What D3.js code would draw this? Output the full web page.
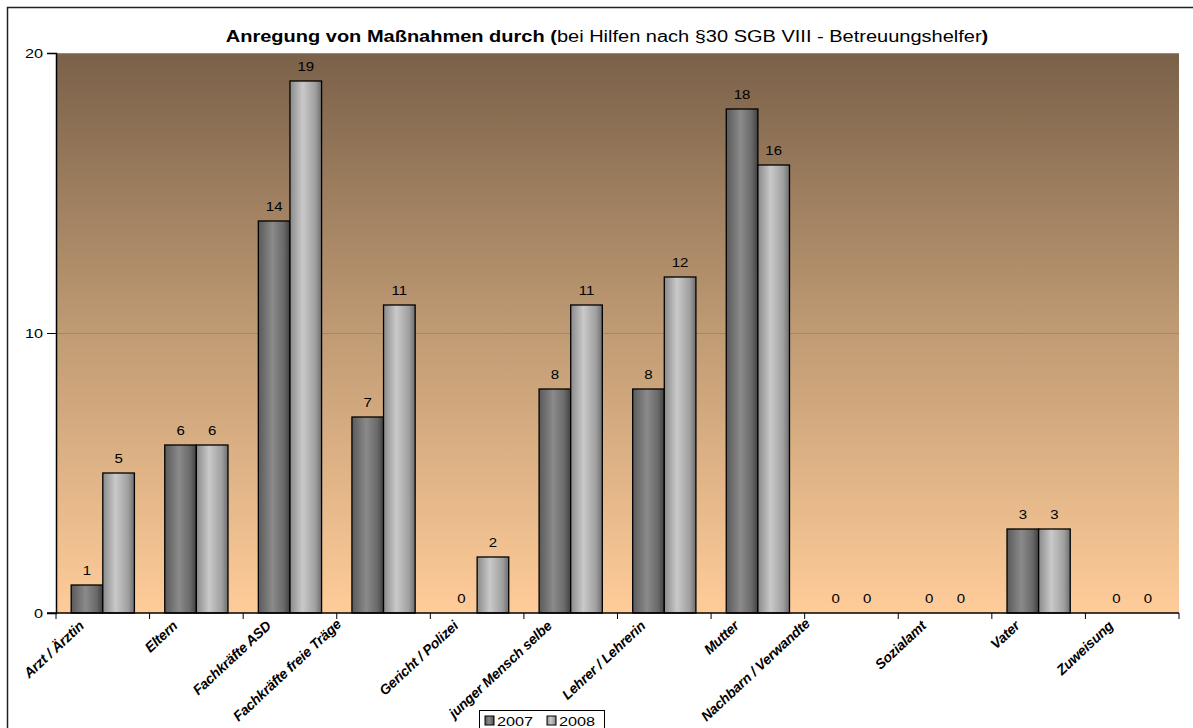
<!DOCTYPE html>
<html>
<head>
<meta charset="utf-8">
<script src="https://cdn.jsdelivr.net/npm/d3@7"></script>
<style>
  body { margin: 0; background: #fff; }
  svg { display: block; font-family: "Liberation Sans", Arial, sans-serif; }
</style>
</head>
<body>
<svg id="svg" width="1193" height="728"></svg>
<script>
// categories and values
var categories = ["Arzt / Ärztin", "Eltern", "Fachkräfte ASD", "Fachkräfte freie Träge",
    "Gericht / Polizei", "junger Mensch selbe", "Lehrer / Lehrerin", "Mutter",
    "Nachbarn / Verwandte", "Sozialamt", "Vater", "Zuweisung"];
var years = ["2007", "2008"];
var values2007 = [1, 6, 14, 7, 0, 8, 8, 18, 0, 0, 3, 0];
var values2008 = [5, 6, 19, 11, 2, 11, 12, 16, 0, 0, 3, 0];
var yTicks = [0, 10, 20];

var svg = d3.select("#svg");
var L = 56, R = 1179, T = 53, B = 613;
var SX = 1.25; // the original text is drawn wider than normal

function tr(x, y) {
    return "translate(" + x + "," + y + ") scale(" + SX + ",1)";
}

var defs = svg.append("defs");
var bg = defs.append("linearGradient").attr("id", "bg")
        .attr("x1", 0).attr("y1", 0).attr("x2", 0).attr("y2", 1);
bg.append("stop").attr("offset", "0%").attr("stop-color", "#7a6149");
bg.append("stop").attr("offset", "50%").attr("stop-color", "#c09b74");
bg.append("stop").attr("offset", "100%").attr("stop-color", "#ffcc99");

//bar shading, horizontal
function barGrad(id, stops) {
    var g = defs.append("linearGradient").attr("id", id)
            .attr("x1", 0).attr("y1", 0).attr("x2", 1).attr("y2", 0);
    stops.forEach((s) => {
        g.append("stop").attr("offset", s[0]).attr("stop-color", s[1]);
    });
}
barGrad("g2007", [["0%", "#5a5a5a"], ["45%", "#8a8a8a"], ["80%", "#6a6a6a"], ["100%", "#404040"]]);
barGrad("g2008", [["0%", "#8a8a8a"], ["40%", "#c9c9c9"], ["80%", "#a0a0a0"], ["100%", "#6e6e6e"]]);

// outer border
svg.append("rect").attr("x", 7.5).attr("y", 7.5).attr("width", 1300).attr("height", 800)
        .attr("fill", "#fff").attr("stroke", "#222").attr("stroke-width", 1.5);

var x = d3.scaleBand().domain(categories).range([L, R]);
var xs = d3.scaleBand().domain(years).range([0, x.bandwidth()]).paddingOuter(0.48).paddingInner(0);
var y = d3.scaleLinear().domain([0, 20]).range([B, T]);

svg.append("rect").attr("x", L).attr("y", T).attr("width", R - L).attr("height", B - T)
        .attr("fill", "url(#bg)");

// gridlines
svg.append("g").selectAll("line").data(yTicks.filter((d) => d > 0)).enter()
        .append("line")
        .attr("x1", L).attr("x2", R)
        .attr("y1", (d) => Math.round(y(d)) + 0.5).attr("y2", (d) => Math.round(y(d)) + 0.5)
        .attr("stroke", "#8c8c8c").attr("stroke-width", 1);

// title
var title = svg.append("text").attr("transform", tr(607, 42)).attr("text-anchor", "middle")
        .attr("font-size", 16).attr("fill", "#000");
title.append("tspan").attr("font-weight", "bold").text("Anregung von Maßnahmen durch (");
title.append("tspan").text("bei Hilfen nach §30 SGB VIII - Betreuungshelfer");
title.append("tspan").attr("font-weight", "bold").text(")");

// bars
var rows = [];
categories.forEach((c, i) => {
    rows.push({cat: c, year: "2007", v: values2007[i]});
    rows.push({cat: c, year: "2008", v: values2008[i]});
});

var g = svg.append("g");
g.selectAll("rect").data(rows.filter((d) => d.v > 0)).enter()
        .append("rect")
        .attr("x", (d) => x(d.cat) + xs(d.year))
        .attr("y", (d) => y(d.v))
        .attr("width", xs.bandwidth())
        .attr("height", (d) => B - y(d.v))
        .attr("fill", (d) => "url(#g" + d.year + ")")
        .attr("stroke", "#000").attr("stroke-width", 1.3);

g.selectAll("text").data(rows).enter()
        .append("text")
        .attr("transform", (d) => tr(x(d.cat) + xs(d.year) + xs.bandwidth() / 2, y(d.v) - 10))
        .attr("text-anchor", "middle")
        .attr("font-size", 12)
        .attr("fill", "#000")
        .text((d) => d.v);

// y axis
var yAxis = svg.append("g").attr("transform", "translate(" + L + ",0)")
        .call(d3.axisLeft(y).tickValues(yTicks).tickSize(9).tickPadding(4).tickFormat(d3.format("d")));
yAxis.select(".domain").attr("stroke", "#000").attr("stroke-width", 1.5);
yAxis.selectAll(".tick line").attr("stroke", "#000");
yAxis.selectAll("text")
        .attr("font-size", 13)
        .attr("font-family", "Liberation Sans, Arial, sans-serif")
        .attr("transform", "translate(-13,0) scale(" + SX + ",1)")
        .attr("x", 0);

// x axis line and ticks at category boundaries
svg.append("line").attr("x1", L - 9).attr("x2", R).attr("y1", B).attr("y2", B)
        .attr("stroke", "#000").attr("stroke-width", 1.5);
var bounds = categories.map((c) => x(c)).concat([R]);
svg.append("g").selectAll("line").data(bounds).enter()
        .append("line")
        .attr("x1", (d) => d).attr("x2", (d) => d)
        .attr("y1", B).attr("y2", B + 6)
        .attr("stroke", "#000").attr("stroke-width", 1);

// category labels: end near the tick centre, labels that were cut short start at the bottom
var ANG = 43;
var maxLen = 140;
var labels = svg.append("g").selectAll("text").data(categories).enter()
        .append("text")
        .attr("font-size", 14)
        .attr("font-weight", "bold")
        .attr("font-style", "italic")
        .attr("letter-spacing", -0.2)
        .text((d) => d);
labels.each(function (d) {
    var t = d3.select(this);
    var len = this.getComputedTextLength();
    var cx = x(d) + x.bandwidth() / 2;
    if (len > maxLen) {
        t.attr("text-anchor", "start")
                .attr("transform", "translate(" + (cx - 145) + ",722) rotate(" + (-ANG) + ")");
    } else {
        t.attr("text-anchor", "end")
                .attr("transform", "translate(" + (cx - 18) + "," + (B + 14) + ") rotate(" + (-ANG) + ")");
    }
});

// legend
var leg = svg.append("g").attr("transform", "translate(479,710)");
leg.append("rect").attr("x", 0.5).attr("y", 0.5).attr("width", 125).attr("height", 30)
        .attr("fill", "#fff").attr("stroke", "#000");
years.forEach((yr, i) => {
    var lx = 6 + i * 62;
    leg.append("rect").attr("x", lx).attr("y", 6).attr("width", 9).attr("height", 9)
            .attr("fill", "url(#g" + yr + ")").attr("stroke", "#000");
    leg.append("text").attr("transform", tr(lx + 12, 15.5))
            .attr("font-size", 13).text(yr);
});
</script>
</body>
</html>
